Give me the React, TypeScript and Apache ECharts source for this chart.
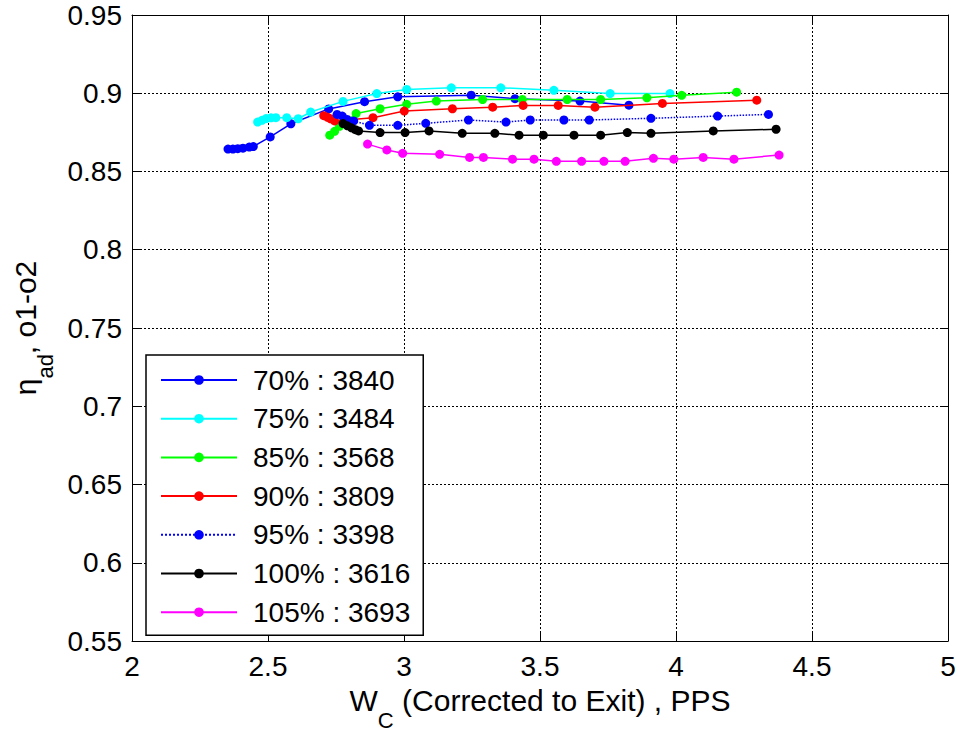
import React, { useEffect, useRef } from "react";
import * as echarts from "echarts";

const FONT = "Liberation Sans, Arial, Helvetica, sans-serif";

const seriesNames = ["70% : 3840", "75% : 3484", "85% : 3568", "90% : 3809", "95% : 3398", "100% : 3616", "105% : 3693"];
const seriesColors = ["#0000ff", "#00ffff", "#00ff00", "#ff0000", "#0000ff", "#000000", "#ff00ff"];
const seriesDash = ["solid", "solid", "solid", "solid", "dotted", "solid", "solid"];

const w70 = [2.353, 2.371, 2.389, 2.408, 2.431, 2.446, 2.508, 2.584, 2.723, 2.855, 2.977, 3.247, 3.408, 3.647, 3.827];
const e70 = [0.8643, 0.8643, 0.8646, 0.8649, 0.8656, 0.8659, 0.8721, 0.8805, 0.89, 0.8946, 0.8977, 0.8988, 0.8965, 0.895, 0.8924];

const w75 = [2.462, 2.478, 2.493, 2.511, 2.529, 2.569, 2.611, 2.657, 2.776, 2.9, 3.01, 3.174, 3.356, 3.551, 3.758, 3.978];
const e75 = [0.8816, 0.8827, 0.8838, 0.8843, 0.8844, 0.8844, 0.8837, 0.888, 0.8948, 0.8998, 0.9024, 0.9035, 0.9035, 0.9019, 0.8998, 0.8998];

const w85 = [2.727, 2.745, 2.763, 2.824, 2.912, 3.01, 3.119, 3.289, 3.435, 3.6, 3.723, 3.893, 4.021, 4.223];
const e85 = [0.8732, 0.8757, 0.8789, 0.887, 0.8901, 0.8929, 0.895, 0.896, 0.896, 0.896, 0.896, 0.8971, 0.8987, 0.9007];

const w90 = [2.705, 2.719, 2.73, 2.745, 2.886, 3.001, 3.178, 3.326, 3.438, 3.567, 3.702, 3.95, 4.297];
const e90 = [0.8857, 0.8846, 0.8837, 0.8823, 0.8844, 0.8886, 0.8901, 0.8911, 0.8922, 0.8922, 0.8911, 0.8935, 0.8956];

const w95 = [2.754, 2.773, 2.791, 2.815, 2.873, 2.977, 3.08, 3.237, 3.375, 3.464, 3.588, 3.681, 3.908, 4.153, 4.34];
const e95 = [0.8865, 0.8854, 0.8833, 0.8823, 0.8795, 0.8795, 0.8808, 0.8829, 0.8816, 0.8829, 0.8829, 0.8829, 0.884, 0.8854, 0.8865];

const w100 = [2.776, 2.792, 2.807, 2.821, 2.833, 2.912, 3.004, 3.092, 3.214, 3.334, 3.423, 3.512, 3.625, 3.723, 3.821, 3.908, 4.137, 4.368];
const e100 = [0.8806, 0.8792, 0.8779, 0.8767, 0.8759, 0.8749, 0.8749, 0.8759, 0.8744, 0.8744, 0.8732, 0.8732, 0.8732, 0.8732, 0.8749, 0.8744, 0.8759, 0.877];

const w105 = [2.866, 2.937, 2.995, 3.131, 3.241, 3.292, 3.399, 3.478, 3.56, 3.653, 3.735, 3.813, 3.917, 3.992, 4.1, 4.213, 4.379];
const e105 = [0.8675, 0.8638, 0.8616, 0.861, 0.859, 0.859, 0.8579, 0.8579, 0.8565, 0.8565, 0.8565, 0.8565, 0.8584, 0.8579, 0.859, 0.8579, 0.8605];

const flowSets = [w70, w75, w85, w90, w95, w100, w105];
const effSets = [e70, e75, e85, e90, e95, e100, e105];

const xMin = 2, xMax = 5, xStep = 0.5;
const yMin = 0.55, yMax = 0.95, yStep = 0.05;

export default function App() {
  const ref = useRef<HTMLDivElement>(null);
  useEffect(() => {
    if (!ref.current) return;
    const chart = echarts.init(ref.current, null, { renderer: "svg" });
    const axisCommon = {
      axisLine: { show: true, onZero: false, lineStyle: { color: "#000", width: 1 } },
      axisTick: { show: true, inside: true, length: 8, lineStyle: { color: "#000", width: 1 } },
    };
    const nameRich = {
      n: { fontSize: 30, color: "#000", fontFamily: FONT, lineHeight: 62 },
      s: { fontSize: 22, color: "#000", fontFamily: FONT, verticalAlign: "bottom" },
    };
    const series = seriesNames.map((name, i) => ({
      name,
      type: "line",
      xAxisIndex: 0,
      yAxisIndex: 0,
      data: flowSets[i].map((x, j) => [x, effSets[i][j]]),
      symbol: "circle",
      symbolSize: 9,
      showSymbol: true,
      color: seriesColors[i],
      itemStyle: { color: seriesColors[i] },
      lineStyle: { color: seriesColors[i], width: 1.5, type: seriesDash[i] as any },
      z: 2 + i,
    }));
    chart.setOption({
      animation: false,
      backgroundColor: "#fff",
      textStyle: { fontFamily: FONT },
      grid: { left: 132, top: 15, right: 14, bottom: 92, containLabel: false },
      xAxis: [
        {
          type: "value", position: "bottom", min: xMin, max: xMax, interval: xStep,
          ...axisCommon,
          axisLabel: { fontSize: 28, color: "#000", fontFamily: FONT, margin: 11 },
          splitLine: { show: true, lineStyle: { color: "#000", width: 1, type: [2, 2] } },
          name: "{n|W}{s|C}{n| (Corrected to Exit) , PPS}",
          nameLocation: "middle",
          nameGap: 28,
          nameTextStyle: { rich: nameRich },
        },
        {
          type: "value", position: "top", min: xMin, max: xMax, interval: xStep,
          ...axisCommon,
          axisLabel: { show: false },
          splitLine: { show: false },
        },
      ],
      yAxis: [
        {
          type: "value", position: "left", min: yMin, max: yMax, interval: yStep,
          ...axisCommon,
          axisLabel: { fontSize: 28, color: "#000", fontFamily: FONT, margin: 10 },
          splitLine: { show: true, lineStyle: { color: "#000", width: 1, type: [2, 2] } },
          name: "{n|η}{s|ad}{n|, o1-o2}",
          nameLocation: "middle",
          nameRotate: 90,
          nameGap: 72,
          nameTextStyle: { rich: nameRich },
        },
        {
          type: "value", position: "right", min: yMin, max: yMax, interval: yStep,
          ...axisCommon,
          axisLabel: { show: false },
          splitLine: { show: false },
        },
      ],
      legend: {
        show: true,
        orient: "vertical",
        left: 146,
        top: 355,
        data: seriesNames,
        backgroundColor: "#fff",
        borderColor: "#000",
        borderWidth: 1.5,
        borderRadius: 0,
        padding: [10, 13, 8, 14],
        itemWidth: 76,
        itemHeight: 12,
        itemGap: 8.7,
        textStyle: { fontSize: 28, color: "#000", fontFamily: FONT, lineHeight: 30, padding: [0, 0, 0, 11] },
        z: 10,
      },
      series,
    });
    return () => chart.dispose();
  }, []);
  return <div ref={ref} style={{ position: "fixed", left: 0, top: 0, width: 962, height: 736 }} />;
}
